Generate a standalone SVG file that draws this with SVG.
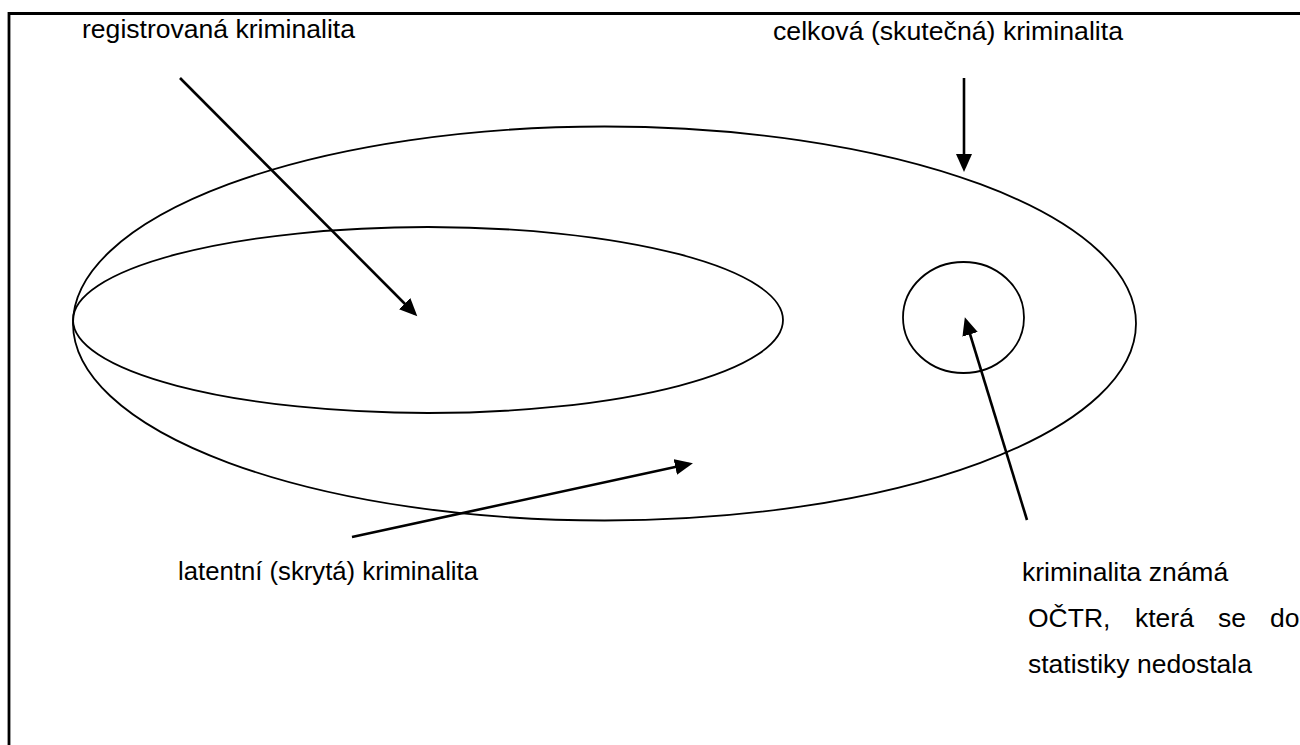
<svg xmlns="http://www.w3.org/2000/svg" width="1300" height="745" viewBox="0 0 1300 745">
<style>
  .lbl { font-family: "Liberation Sans", Arial, sans-serif; font-size: 26.5px; fill: #000; }
  .shape { fill: none; stroke: #000; stroke-width: 1.8; }
  .arrow { fill: none; stroke: #000; stroke-width: 2.6; marker-end: url(#ah); }
  .frame { stroke: #000; stroke-width: 2.8; fill: none; }
</style>
<defs>
  <marker id="ah" markerUnits="userSpaceOnUse" markerWidth="20" markerHeight="17" refX="14" refY="8" orient="auto">
    <path d="M0,0 L18,8 L0,16 z" fill="#000"/>
  </marker>
</defs>
<rect width="1300" height="745" fill="#fff"/>
<g id="frame">
  <path class="frame" d="M9,745 L9,13.5 L1300,13.5"/>
</g>
<g id="celkova">
  <ellipse class="shape" cx="604.5" cy="323.5" rx="531.5" ry="197"/>
  <text class="lbl" x="773" y="40" textLength="350" lengthAdjust="spacingAndGlyphs">celková (skutečná) kriminalita</text>
</g>
<g id="registrovana">
  <ellipse class="shape" cx="428" cy="320" rx="355" ry="93"/>
  <text class="lbl" x="82" y="38" textLength="273" lengthAdjust="spacingAndGlyphs">registrovaná kriminalita</text>
</g>
<g id="znama">
  <ellipse class="shape" cx="963.5" cy="317.5" rx="60.5" ry="55.5"/>
  <text class="lbl" x="1022" y="581">kriminalita známá</text>
  <text class="lbl" y="627"><tspan x="1028">OČTR,</tspan><tspan x="1135">která</tspan><tspan x="1218">se</tspan><tspan x="1270">do</tspan></text>
  <text class="lbl" x="1028" y="673">statistiky nedostala</text>
</g>
<g id="latentni">
  <text class="lbl" x="178" y="580" textLength="300" lengthAdjust="spacingAndGlyphs">latentní (skrytá) kriminalita</text>
</g>
<g id="connectors">
  <line class="arrow" x1="180" y1="78" x2="414.5" y2="313.5"/>
  <line class="arrow" x1="964" y1="78" x2="964" y2="168"/>
  <line class="arrow" x1="352" y1="537" x2="689" y2="464"/>
  <line class="arrow" x1="1027" y1="520" x2="966" y2="321"/>
</g>
</svg>
